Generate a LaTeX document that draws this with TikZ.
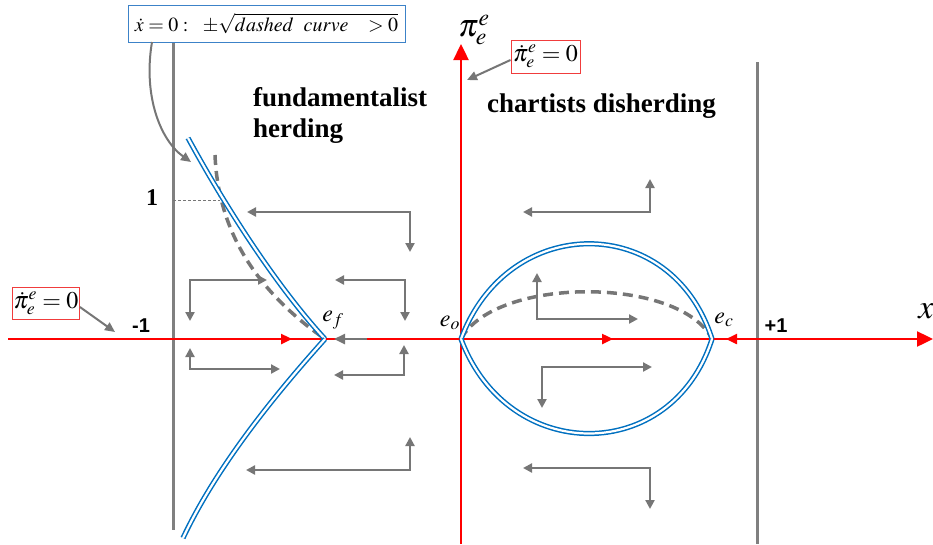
\documentclass[tikz,border=0pt]{standalone}
\usepackage{mathptmx}
\usepackage{fontspec}
\setmainfont{Liberation Serif}
\newfontfamily\arialfont{Liberation Sans}
\usetikzlibrary{arrows.meta}
\definecolor{myred}{RGB}{255,0,0}
\definecolor{boxred}{RGB}{240,60,60}
\definecolor{myblue}{RGB}{0,112,192}
\definecolor{boxblue}{RGB}{60,130,200}
\definecolor{mygray}{RGB}{118,118,118}
\definecolor{axisgray}{RGB}{128,128,128}
\begin{document}
\begin{tikzpicture}[x=1pt,y=-1pt,
  flow/.style={draw=mygray, line width=2.2pt, {Triangle[length=9pt,width=9pt]}-{Triangle[length=9pt,width=9pt]}},
  pointer/.style={draw=mygray, line width=2pt, -{Triangle[length=10pt,width=9pt]}},
  axisline/.style={draw=myred, line width=2.4pt},
  wall/.style={draw=axisgray, line width=3pt},
  nullcl/.style={draw=myblue, line width=1.5pt, double=white, double distance=2.2pt},
  dashcurve/.style={draw=mygray, line width=3.5pt, dash pattern=on 10pt off 6pt},
  eqbox/.style={draw=boxred, line width=1pt, fill=white, inner sep=1pt, font=\fontsize{24}{26}\selectfont},
  lbl/.style={inner sep=0pt, font=\fontsize{24}{26}\selectfont},
  heading/.style={inner sep=0pt, anchor=base west, font=\fontsize{27}{29}\selectfont\bfseries},
  numlbl/.style={inner sep=0pt, font=\fontsize{20}{22}\selectfont\arialfont\bfseries}]
\useasboundingbox (0,0) rectangle (933,544);

% walls
\draw[wall] (173,42) -- (173,530);
\draw[wall] (757,62) -- (757,544);

% axes
\coordinate (xs) at (8,339);
\coordinate (xe) at (933,339);
\coordinate (ys) at (461,544);
\coordinate (ye) at (461,44);
\draw[axisline, -{Triangle[length=16pt,width=15pt]}] (xs) -- (xe);
\draw[axisline, -{Triangle[length=16pt,width=15pt]}] (ys) -- (ye);

% red direction marks on x axis
\draw[myred, line width=2.4pt, -{Triangle[length=11pt,width=10pt]}] (275,339) -- (292,339);
\draw[myred, line width=2.4pt, -{Triangle[length=11pt,width=10pt]}] (595,339) -- (613,339);
\draw[myred, line width=2.4pt, -{Triangle[length=11pt,width=10pt]}] (745,339) -- (726,339);

% equilibria
\coordinate (ef) at (325,339);
\coordinate (eo) at (461,339);
\coordinate (ec) at (712,339);

% dashed curves
\draw[dashcurve] (215,155) .. controls (218,230) and (255,290) .. (ef);
\draw[dashcurve] (eo) .. controls (495,276) and (680,276) .. (ec);
\draw[draw=mygray, line width=0.8pt, dash pattern=on 3pt off 2pt] (173,200) -- (220,200);

% gray arrow on axis into ef
\draw[draw=mygray, line width=2.4pt, -{Triangle[length=11pt,width=10pt]}] (367,339) -- (334,339);

% blue nullclines
\draw[nullcl] (188,138) .. controls (230,215) and (280,290) .. (ef);
\draw[nullcl] (ef) .. controls (270,400) and (215,470) .. (183,538);
\draw[nullcl] (eo) .. controls (508,212) and (672,212) .. (ec);
\draw[nullcl] (eo) .. controls (508,465) and (672,465) .. (ec);

% flow arrows
\draw[flow] (247,212) -- (410,212) -- (410,252);
\draw[flow] (190,321) -- (190,280) -- (267,280);
\draw[flow] (335,280) -- (405,280) -- (405,321);
\draw[flow] (190,348) -- (190,369) -- (280,369);
\draw[flow] (404,345) -- (404,375) -- (334,375);
\draw[flow] (410,437) -- (410,470) -- (246,470);
\draw[flow] (650,179) -- (650,212) -- (523,212);
\draw[flow] (537,273) -- (537,319) -- (638,319);
\draw[flow] (542,408) -- (542,367) -- (652,367);
\draw[flow] (523,468) -- (650,468) -- (650,509);

% labels
\node[lbl] (pilab) at (474,30) {\fontsize{32}{34}\selectfont$\pi_e^e$};
\node[lbl] (xlab) at (926,311) {\fontsize{34}{36}\selectfont$x$};
\node[lbl] (eflab) at (333,320) {$e_f$};
\node[lbl] (eolab) at (450,323) {$e_o$};
\node[lbl] (eclab) at (724,320) {$e_c$};
\node[lbl, font=\fontsize{24}{26}\selectfont\bfseries] (one) at (152,198) {1};
\node[numlbl] (mone) at (141,326) {-1};
\node[numlbl] (pone) at (776,326) {+1};

\node[heading] (fh1) at (253,106) {fundamentalist};
\node[heading] (fh2) at (253,137) {herding};
\node[heading] (ch) at (487,112) {chartists disherding};

% boxes
\node[eqbox, minimum width=69pt, minimum height=33pt] (boxr) at (545.5,56.5) {$\dot\pi_e^e=0$};
\node[eqbox, minimum width=62pt, minimum height=32pt] (boxl) at (46,303) {$\dot\pi_e^e=0$};
\node[eqbox, draw=boxblue, inner sep=0pt, minimum width=277pt, minimum height=37pt, font=\fontsize{20}{22}\selectfont] (boxb) at (266.5,23.5) {$\dot x=0:\ \ \pm\sqrt{dashed\ \ curve\ \ \ >0}$};

\coordinate (pr) at (467,80);
\coordinate (pl) at (115,332);
\coordinate (pb) at (191,162);
\draw[pointer] (boxr.west |- 0,60) -- (pr);
\draw[pointer] (boxl.east |- 0,307) -- (pl);
\draw[pointer] (152,42) .. controls (143,95) and (160,140) .. (pb);
\end{tikzpicture}
\end{document}
